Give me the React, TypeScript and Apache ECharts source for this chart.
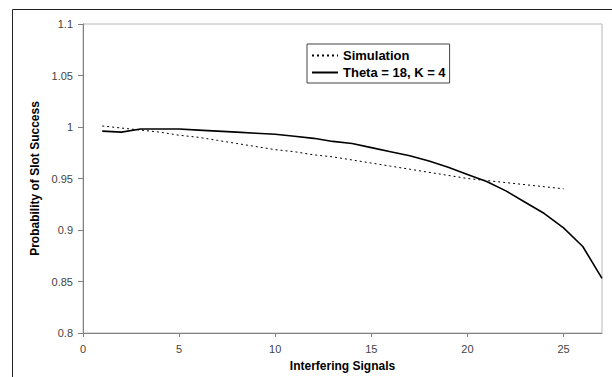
import React, { useEffect, useRef } from "react";
import * as echarts from "echarts";

const simX = [1, 2, 3, 4, 5, 6, 7, 8, 9, 10, 11, 12, 13, 14, 15, 16, 17, 18, 19, 20, 21, 22, 23, 24, 25];
const simY = [1.001, 0.999, 0.997, 0.995, 0.992, 0.99, 0.987, 0.984, 0.981, 0.978, 0.976, 0.973, 0.971, 0.968, 0.965, 0.962, 0.959, 0.956, 0.953, 0.95, 0.948, 0.946, 0.944, 0.942, 0.94];
const thX = [1, 2, 3, 4, 5, 6, 7, 8, 9, 10, 11, 12, 13, 14, 15, 16, 17, 18, 19, 20, 21, 22, 23, 24, 25, 26, 27];
const thY = [0.996, 0.995, 0.998, 0.998, 0.998, 0.997, 0.996, 0.995, 0.994, 0.993, 0.991, 0.989, 0.986, 0.984, 0.98, 0.976, 0.972, 0.967, 0.961, 0.954, 0.947, 0.938, 0.927, 0.916, 0.902, 0.884, 0.853];
const seriesNames = ["Simulation", "Theta = 18, K = 4"];
const xTitle = "Interfering Signals";
const yTitle = "Probability of Slot Success";

const FONT = "'Liberation Sans', Arial, sans-serif";

export default function App() {
  const ref = useRef<HTMLDivElement>(null);
  useEffect(() => {
    if (!ref.current) return;
    const chart = echarts.init(ref.current, undefined, { renderer: "svg" });
    chart.setOption({
      animation: false,
      backgroundColor: "#fff",
      textStyle: { fontFamily: FONT },
      graphic: [
        {
          type: "rect",
          shape: { x: 12.5, y: 9.5, width: 700, height: 500 },
          style: { fill: "none", stroke: "#222", lineWidth: 1 },
          silent: true,
        },
      ],
      grid: {
        left: 83,
        top: 24,
        width: 519,
        height: 314,
        show: true,
        borderColor: "#b8b8b8",
        borderWidth: 1,
        backgroundColor: "transparent",
      },
      legend: {
        orient: "vertical",
        left: 307,
        top: 44,
        padding: [5, 4, 4, 4],
        itemGap: 4,
        itemWidth: 26,
        itemHeight: 13,
        borderColor: "#444",
        borderWidth: 1,
        backgroundColor: "#fff",
        itemStyle: { opacity: 0 },
        data: seriesNames,
        textStyle: { fontFamily: FONT, fontSize: 13, fontWeight: "bold", color: "#000" },
      },
      xAxis: {
        type: "value",
        min: 0,
        max: 27,
        interval: 5,
        name: xTitle,
        nameLocation: "middle",
        nameGap: 27,
        nameTextStyle: { fontFamily: FONT, fontSize: 12, fontWeight: "bold", color: "#000" },
        axisLine: { show: true, lineStyle: { color: "#808080", width: 1 } },
        axisTick: { show: true, inside: false, length: 4, lineStyle: { color: "#808080" } },
        axisLabel: { fontFamily: FONT, fontSize: 11, color: "#444", margin: 10, showMaxLabel: false },
        splitLine: { show: false },
      },
      yAxis: {
        type: "value",
        min: 0.8,
        max: 1.1,
        interval: 0.05,
        name: yTitle,
        nameLocation: "middle",
        nameGap: 36,
        nameTextStyle: { fontFamily: FONT, fontSize: 12, fontWeight: "bold", color: "#000" },
        axisLine: { show: true, lineStyle: { color: "#808080", width: 1 } },
        axisTick: { show: true, inside: false, length: 5, lineStyle: { color: "#808080" } },
        axisLabel: {
          fontFamily: FONT,
          fontSize: 11,
          color: "#444",
          margin: 10,
          formatter: (v: number) => String(Number(v.toFixed(2))),
        },
        splitLine: { show: false },
      },
      series: [
        {
          name: seriesNames[0],
          type: "line",
          data: simX.map((x, i) => [x, simY[i]]),
          symbol: "none",
          lineStyle: { color: "#000", width: 1, type: [2, 3] },
          itemStyle: { color: "#000" },
        },
        {
          name: seriesNames[1],
          type: "line",
          data: thX.map((x, i) => [x, thY[i]]),
          symbol: "none",
          lineStyle: { color: "#000", width: 1.6, type: "solid" },
          itemStyle: { color: "#000" },
        },
      ],
    });
    return () => chart.dispose();
  }, []);
  return (
    <div
      ref={ref}
      style={{ position: "fixed", left: 0, top: 0, width: 612, height: 377 }}
    />
  );
}
